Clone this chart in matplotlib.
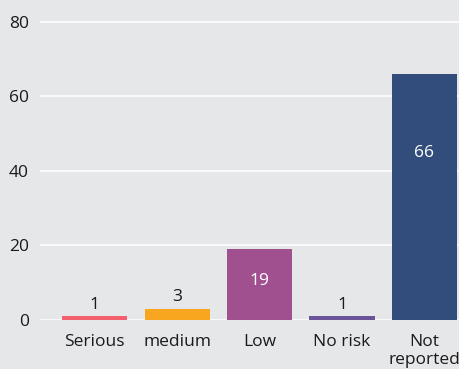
import matplotlib
matplotlib.use('Agg')
import matplotlib.pyplot as plt

# data
categories = ['Serious', 'medium', 'Low', 'No risk', 'Not\nreported']
values = [1, 3, 19, 1, 66]
colors = ['#f2606e', '#f8a51f', '#a1508f', '#6a5397', '#324d7c']
inside = [False, False, True, False, True]
label_frac = [0, 0, 0.55, 0, 0.68]

bg = '#e6e7e9'
plt.rcParams['font.family'] = ['Open Sans', 'DejaVu Sans']

fig = plt.figure(figsize=(4.59, 3.69), dpi=100, facecolor=bg)
ax = fig.add_axes([40 / 459, 49 / 369, 419 / 459, 320 / 369])
ax.set_facecolor(bg)

x = list(range(len(categories)))
ax.bar(x, values, width=0.79, color=colors, zorder=3)

for i, v in enumerate(values):
    if inside[i]:
        ax.text(i, v * label_frac[i], str(v), ha='center', va='center',
                color='white', fontsize=12.5, zorder=4)
    else:
        ax.text(i, v + 1.0, str(v), ha='center', va='bottom',
                color='#1a1a1a', fontsize=12.5, zorder=4)

ax.set_xlim(-0.665, 4.42)
ax.set_ylim(0, 85.9)
ax.set_yticks([0, 20, 40, 60, 80])
ax.grid(axis='y', color='white', linewidth=1.2, zorder=1)
ax.set_xticks(x)
ax.set_xticklabels(categories, linespacing=1.15)
ax.tick_params(axis='both', length=0, labelsize=12.5, colors='#1a1a1a')
ax.tick_params(axis='y', pad=8)
ax.tick_params(axis='x', pad=10)
for s in ax.spines.values():
    s.set_visible(False)

plt.savefig('out.png', dpi=100, facecolor=bg)
